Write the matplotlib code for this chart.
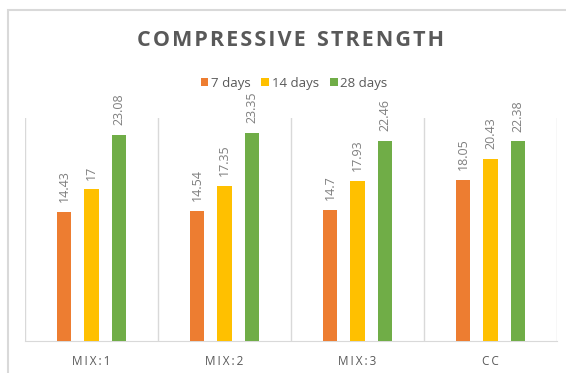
import matplotlib.pyplot as plt
from matplotlib.patches import Rectangle

categories = ['MIX:1', 'MIX:2', 'MIX:3', 'CC']
series_names = ['7 days', '14 days', '28 days']
days_7 = [14.43, 14.54, 14.7, 18.05]
days_14 = [17, 17.35, 17.93, 20.43]
days_28 = [23.08, 23.35, 22.46, 22.38]
colors = ['#ED7D31', '#FFC000', '#70AD47']

plt.rcParams['font.family'] = ['Open Sans', 'DejaVu Sans']

fig = plt.figure(figsize=(5.66, 3.73), dpi=100)
ax = fig.add_axes([25 / 566, 32 / 373, 532 / 566, 223 / 373])

# outer chart frame (runs off the right and bottom edges)
fig.patches.append(Rectangle((8 / 566, -0.1), 1.2, 1.1 - 10 / 373,
                             transform=fig.transFigure, fill=False,
                             edgecolor='#d9d9d9', linewidth=1.5))

x = range(len(categories))
width = 0.108
offset = 0.207
for i, (vals, name, c) in enumerate(zip([days_7, days_14, days_28], series_names, colors)):
    pos = [k + (i - 1) * offset for k in x]
    bars = ax.bar(pos, vals, width, color=c, label=name, zorder=3)
    for b, v in zip(bars, vals):
        ax.text(b.get_x() + b.get_width() / 2, v + 1.1, f'{v:g}', rotation=90,
                ha='center', va='bottom', fontsize=9, color='#7f7f7f')

# category separators
for b in [-0.5, 0.5, 1.5, 2.5, 3.5]:
    ax.axvline(b, color='#d9d9d9', linewidth=1, zorder=1)

ax.set_xlim(-0.5, 3.5)
ax.set_ylim(0, 25)
ax.set_yticks([])
ax.set_xticks(list(x))
ax.set_xticklabels(['\u2009'.join(c) for c in categories], fontsize=8.5, color='#595959')
ax.tick_params(axis='x', length=0, pad=10)
for s in ['top', 'left', 'right']:
    ax.spines[s].set_visible(False)
ax.spines['bottom'].set_color('#d9d9d9')

# widen the title's letter spacing with hair spaces
title = '\u200a'.join('COMPRESSIVE') + '  ' + '\u200a'.join('STRENGTH')
fig.text(291 / 566, 1 - 41 / 373, title, ha='center', va='center',
         fontsize=15.5, fontweight='bold', color='#595959')

fig.legend(loc='center', bbox_to_anchor=(294 / 566, 1 - 83 / 373), ncol=3, frameon=False,
           fontsize=9.5, handlelength=0.6, handleheight=0.6, handletextpad=0.2,
           columnspacing=0.8, labelcolor='#595959')

fig.savefig('out.png', dpi=100)
